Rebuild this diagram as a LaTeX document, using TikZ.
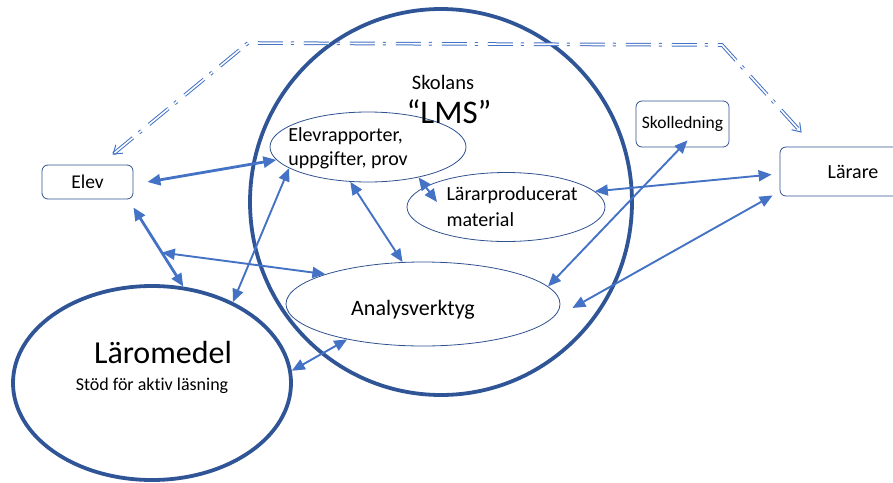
\documentclass[tikz,border=0pt]{standalone}
\usepackage{fontspec}
\setmainfont{Carlito}[Ligatures=NoCommon]
\usetikzlibrary{shapes.geometric,arrows.meta,calc}

\definecolor{ringblue}{HTML}{2F5597}
\definecolor{partblue}{HTML}{2F528F}
\definecolor{linkblue}{HTML}{4472C4}

\tikzset{
  ring/.style={ellipse, draw=ringblue, line width=3.8pt, inner sep=0pt},
  part/.style={ellipse, draw=partblue, line width=0.8pt, inner sep=0pt},
  actor/.style={draw=partblue, line width=0.8pt, rounded corners=6pt, inner sep=0pt},
  link/.style={draw=linkblue, line width=1.9pt,
    {Triangle[length=13pt,width=11pt]}-{Triangle[length=13pt,width=11pt]}},
  strong/.style={link, line width=2.8pt},
  feedback/.style={draw=linkblue, line width=1pt, double=white, double distance=1.6pt,
    dash pattern=on 25pt off 8pt on 3pt off 10pt,
    {Straight Barb[length=8pt,width=11pt]}-{Straight Barb[length=8pt,width=11pt]}},
}

\begin{document}
\begin{tikzpicture}[x=1pt,y=-1pt]
  \useasboundingbox (0,0) rectangle (893,482);

  % big circles
  \node[ring, minimum width=382pt, minimum height=386pt] (lms) at (441,202) {};
  \node[ring, minimum width=278pt, minimum height=194pt] (laromedel) at (152,383) {};

  % parts of the LMS
  \node[part, minimum width=196pt, minimum height=70pt] (rapporter) at (368,147) {};
  \node[part, minimum width=198pt, minimum height=69pt] (material) at (506,207) {};
  \node[part, minimum width=274pt, minimum height=84pt] (analys) at (423,304) {};

  % actors
  \node[actor, minimum width=91pt, minimum height=34pt, font=\fontsize{19.5}{22}\selectfont]
    (elev) at (87.5,182) {Elev\hspace{9pt}};
  \node[actor, minimum width=93pt, minimum height=46pt, font=\fontsize{17.5}{20}\selectfont]
    (skolledning) at (682.5,124) {Skolledning};
  \node[actor, minimum width=146pt, minimum height=49pt, font=\fontsize{20}{22}\selectfont]
    (larare) at (853,171.5) {Lärare};

  % texts
  \node[font=\fontsize{20.5}{24}\selectfont] (skolans) at (443,82) {Skolans};
  \node[font=\fontsize{33}{38}\selectfont] (lmstext) at (449,112) {“LMS”};
  \node[align=left, font=\fontsize{20}{24}\selectfont] (rapportertext)
    at ($(rapporter)+(-20,1)$) {Elevrapporter,\\uppgifter, prov};
  \node[align=left, font=\fontsize{20}{26}\selectfont] (materialtext)
    at ($(material)+(6,0)$) {Lärarproducerat\\material};
  \node[font=\fontsize{22}{26}\selectfont] (analystext)
    at ($(analys)+(-10,6)$) {Analysverktyg};
  \node[font=\fontsize{32}{36}\selectfont] (laromedeltext)
    at ($(laromedel)+(11,-30)$) {Läromedel};
  \node[font=\fontsize{18}{22}\selectfont] (stodtext)
    at ($(laromedel)+(0,3)$) {Stöd för aktiv läsning};

  % connectors
  \coordinate (bendL) at (248,43);
  \coordinate (bendR) at (722,45);
  \draw[feedback] ($(elev.north)+(25,-10)$) -- (bendL) -- (bendR)
    -- ($(larare.north west)+(22,-14)$);

  \draw[strong] ($(elev.east)+(14,0)$) -- (rapporter.188);
  \draw[strong] ($(elev.south east)+(0,8)$) coordinate (elevfoot) -- (laromedel.72);
  \coordinate (fork) at ($(elevfoot)!0.57!(laromedel.72)$);
  \draw[link] (fork) -- (analys.163);
  \draw[link] (laromedel.45) -- (rapporter.195);
  \draw[link] (laromedel.5) -- (analys.205);
  \draw[link] (rapporter.329) -- ($(material)+(-69,-5)$);
  \draw[link] (rapporter.243) -- (analys.116);
  \draw[link] (material.10) -- ($(larare.west)+(-8,3)$);
  \draw[link] ($(skolledning.south)+(5,-7)$) -- (analys.8);
  \draw[link] ($(larare.south west)+(-7,-1)$) -- ($(analys.east)+(12,4)$);
\end{tikzpicture}
\end{document}
